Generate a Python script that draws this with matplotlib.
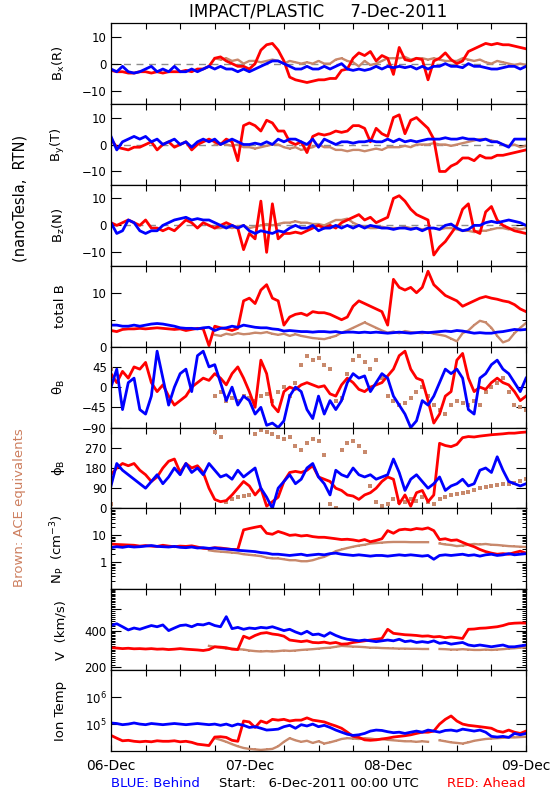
import numpy as np
import matplotlib
matplotlib.use("Agg")
import matplotlib.pyplot as plt
from matplotlib.ticker import FixedLocator, FixedFormatter, NullFormatter, NullLocator, LogLocator

nan = np.nan

# hourly samples, hours after 06-Dec-2011 00:00 UTC
hours = np.arange(73)
day_labels = ['06-Dec', '07-Dec', '08-Dec', '09-Dec']

# ---- B_x (R), nT ----
bx_red = [-2.5, -3, -3, -3.5, -3.5, -3, -3, -3.5, -3, -3.5, -3, -3,
          -3, -2.5, -3, -2, -2, -1, 2, 2.5, 1, 0, -1, -1,
          -2, 0, 5, 7, 7.5, 5, 1, -5, -6, -6.5, -7, -6.5,
          -6, -6, -5.5, -5.5, -2.5, -2, 2, 4, 3, 4.5, 1, 3,
          2, -4, 6, 1.5, 1, 2, 1.5, -6, 1, 2, 4, 1.5,
          0, 1, 4.5, 5.5, 6.5, 7.5, 7, 7.5, 7, 7, 6.5, 6,
          5.5]
bx_blue = [-2, -3, -1, -3, -3.5, -3, -2, -1, -3, -2, -3, -1,
           -3, -3, -2, -3, -2, -1, -2, -1, -2, -2, -3, -2,
           -3, -2, -1, 0, 1, 1, 0, -1, -2, -2, -1, -2,
           -2, -1, -2, -1, 0, -2, -2.5, -2, -2.5, -2, -1, -2,
           -1, -1.5, -1, -1.5, -1, -2, -1, -2, -1, -1, 0, -1,
           -1, -1.5, 0, -1, -1, -1.5, -2, -2, -1.5, -1, -1, -2,
           -1]
bx_brown = [2.5] + [nan] * 17 + [
           2, 1.5, 2, 1, 1.5, 0,
           1, 1, 0.5, 1, 1.5, 1, 0, 1, 0.5, 0, 0.5, 0,
           1, 0, 0, 1.5, 2, 1, 0.5, -1, 1, -0.5, 0, 1,
           2, 2, 2, 2.5, 1.5, 2, 2, 1.5, 2, 1.5, 1, 1,
           1, 2, 1.5, 1, 1.5, 0.5, 0, 1, 0.5, 0, -0.5, 0,
           -0.5]

# ---- B_y (T) ----
by_red = [2, -1, -1.5, -2, -1, -1, 0, 1, -2, 0, 1, -1,
          0, 1, -2, 0, 1, 2, 1, 0, 2, 1, -6, 7,
          8, 7, 5, 9, 8, 5, 5, 1, 0, 1, -3, 3,
          4, 3.5, 4, 5, 4.5, 5, 7, 7, 6, 1, 6, 4,
          3, 10, 11, 4, 9, 10, 8, 6, 2, -10, -10, -8,
          -7, -5, -5, -6, -4, -5, -5, -4, -4, -3.5, -3, -2.5,
          -2]
by_blue = [3, -2, 1, 2, 3, 2, 3, 1, 2, 0, 1, 2,
           0, 1, -1, 1, 2, 1, 2, 0, 1, 2, 1, 0,
           0, 0.5, 0, 1, 0, 2, 1, 2, 2, 1, 0, 2,
           -1, 2, 1, 0, 1, 1, 0.5, 1, 1, 1.5, 1, 1,
           2, 1, 2, 1, 1.5, 1, 1.5, 2, 2, 2, 2.5, 2,
           2, 2.5, 2, 2, 1.5, 2, 1, 1, 0, -1, 2, 2,
           2]
by_brown = [1.5] + [nan] * 17 + [
            0, 0.5, 0, -0.5, 0, -1,
            -1, -1.5, -1, -0.5, 0, 0, -1, -1.5, -1, -2, -1.5, -1,
            0, -1, -1, -2, -2, -2.5, -2, -2, -2.5, -2, -1.5, -2,
            -1, -1, -1, -0.5, -1, 0, 0, 0, 0.5, 0, 0, -0.5,
            0, 0.5, 1, 1.5, 2, 2, 1.5, 1, 0, -0.5, 0, -1,
            -0.5]

# ---- B_z (N) ----
bz_red = [1, 0, 1, 2, 1, 0, 2, -1, -1, -2, -1, -2,
          0, 2, 1, -1, 1, 0, -1, 0, 1, 0, -1, -9,
          -3, -5, 9, -10, 8, -5, -3, -3, -2.5, -3, -2, -1,
          0, -1, 0, -1, 1, 2, 3, 4, 2, 3, 1, 2,
          3, 10, 11, 9, 6, 4, 3, 2, -11, -8, -6, -3,
          0, 6, 8, -2, -3, 5, 7, 2, 0, -1, -2, -2.5,
          -3]
bz_blue = [1, -3, -2, 2, 1, -2, -3, -2, -2, 0, 1, 2,
           2.5, 3, 2, 2.5, 2, 2, 1, 0, -1, 0, -1, 0,
           -2, -3, -2, -2.5, -3, -2, -2.5, -1, 0, -1, -1, 0,
           -2, -1, -1, 0, -1, 0, -1, 0, -1, 0, -0.5, -1,
           -1, -1.5, -1, -1, -1.5, -1, -2, -1, -1, -1.5, 0, 0.5,
           -1, -2, -1.5, 0, 0, 1, 1.5, 1, 1.5, 2, 1.5, 1,
           0]
bz_brown = [1] + [nan] * 17 + [
            -1, -1, -0.5, -1, -0.5, 0,
            -1, -0.5, 0, 0.5, 0, 0.5, 1, 1, 1.5, 1, 1, 0.5,
            0.5, 0, 1, 2, 2, 2.5, 1, 0, -0.5, -1, -1, -0.5,
            -1, -1, -1, -0.5, -1, -1, -1.5, -1, -1, -1.5, -1, -1,
            -1.5, -2, -2, -2.5, -2, -2, -1.5, -1, -1, -1.5, -1, -1.5,
            -1]

# ---- total B ----
btot_red = [3, 2.8, 3.2, 3.3, 3.3, 3.4, 3.3, 3.4, 3.5, 3.4, 3.3, 3.2,
            3.3, 3.0, 3.2, 3.4, 3.3, 0.2, 3.8, 3.5, 3.3, 3.0, 3.4, 8.5,
            9.0, 8.0, 10.5, 11.5, 9.0, 8.5, 4.0, 5.5, 6.0, 6.2, 5.8, 6.5,
            6.3, 6.3, 6.0, 5.5, 5.0, 5.5, 7.5, 8.5, 8.0, 7.5, 7.0, 6.5,
            4.0, 12.5, 11.0, 10.5, 11.0, 10.0, 11.0, 14.0, 11.5, 10.5, 9.5, 9.0,
            8.5, 7.5, 8.0, 8.5, 9.0, 9.3, 9.0, 8.8, 8.5, 8.3, 7.8, 7.0,
            6.5]
btot_blue = [4.0, 4.0, 3.8, 3.8, 4.0, 3.8, 4.0, 4.2, 4.3, 4.2, 4.0, 3.8,
             3.5, 3.4, 3.4, 3.3, 3.5, 3.6, 3.0, 3.4, 3.5, 3.8, 3.6, 4.0,
             3.8, 3.6, 3.5, 3.5, 3.3, 3.2, 2.9, 3.0, 2.9, 2.8, 2.8, 2.7,
             2.8, 2.8, 2.7, 2.8, 2.6, 2.7, 2.7, 2.6, 2.7, 2.6, 2.7, 2.6,
             2.5, 2.6, 2.7, 2.6, 2.5, 2.6, 2.7, 2.6, 2.7, 2.8, 2.9, 2.8,
             3.0, 2.9, 2.7, 2.5, 2.6, 2.5, 2.5, 2.7, 2.8, 3.0, 3.2, 3.1,
             3.2]
btot_brown = [3.5] + [nan] * 17 + [
              2.2, 2.0, 2.4, 2.2, 2.5, 2.3,
              2.4, 2.6, 2.5, 2.7, 2.4, 2.2, 2.4, 2.0, 2.3, 2.0, 1.8, 1.6,
              1.5, 1.4, 1.7, 2.0, 2.6, 3.0, 3.5, 4.0, 4.5, 4.0, 3.5, 3.0,
              2.6, 2.8, 2.5, 2.9, 2.7, 2.6, 2.5, 2.7, 2.4, 2.2, 2.0, 1.5,
              1.0, 2.5, 3.0, 4.0, 4.8, 4.5, 3.5, 2.0, 0.8, 1.2, 2.5, 3.5,
              4.4]

# ---- theta_B, deg ----
theta_red = [30, 10, 35, 20, 45, 40, 55, 10, -10, 5, -20, -40,
             -30, -20, 0, 10, 20, 15, 30, 20, 5, 30, 45, 20,
             -10, -45, 60, 30, -40, -55, -10, 0, -5, 5, 10, 5,
             0, 3, -15, -20, 5, 20, 10, -5, -10, 0, 5, 10,
             25, 40, 70, 80, 40, 20, 15, -30, -80, -60, -20, -10,
             60, 75, 20, -10, 0, -5, 10, 20, 10, 5, -10, -30,
             -20]
theta_blue = [0, 40, -50, 10, 20, -50, -60, -20, 80, 20, -40, 0,
              30, 40, -10, 70, 80, 45, 50, 10, -30, 0, -40, -20,
              -30, -60, -45, -85, -80, -90, -75, -20, 0, -10, -50, -70,
              -20, -60, -30, -50, -30, 10, 30, 20, 25, -10, 10, 30,
              20, -20, -40, -60, -90, -75, -30, -40, -20, 10, 40, 30,
              40, 20, -50, -60, 20, 30, 50, 60, 40, 30, 10, -10,
              20]
theta_brown = [40] + [nan] * 17 + [
               -20, -10, -30, -25, -30, -20,
               -25, -30, -20, -15, -30, -10, 0, -20, 10, 50, 70, 60,
               65, 50, 40, -30, -25, 30, 60, 70, 55, 40, 60, 20,
               -20, -30, -40, -35, -25, -10, 0, -20, -40, -50, -60, -40,
               -30, -35, -40, -30, -40, -10, 0, 10, 20, -10, -40, -45,
               -50]

# ---- phi_B, deg ----
phi_red = [150, 180, 200, 190, 200, 170, 150, 120, 140, 180, 210, 220,
           160, 200, 180, 190, 160, 90, 40, 30, 35, 60, 90, 120,
           100, 60, 90, 10, 30, 50, 120, 160, 165, 160, 170, 190,
           140, 130, 120, 90, 80, 60, 55, 40, 60, 70, 90, 120,
           140, 130, 20, 60, 10, 70, 80, 30, 60, 290, 280, 275,
           285, 315, 320, 318, 322, 325, 328, 330, 332, 335, 335, 338,
           340]
phi_blue = [100, 200, 170, 150, 130, 110, 90, 120, 150, 110, 140, 180,
            150, 200, 160, 180, 150, 200, 170, 140, 150, 130, 170, 140,
            160, 180, 90, 50, 0, 90, 120, 150, 110, 130, 180, 200,
            140, 110, 60, 170, 150, 140, 180, 150, 140, 150, 130, 140,
            150, 220, 160, 80, 130, 150, 120, 90, 110, 140, 80, 100,
            110, 130, 100, 110, 170, 180, 160, 230, 170, 120, 110, 100,
            110]
phi_brown = [20] + [nan] * 17 + [
             340, 320, 30, 40, 50, 55,
             60, 330, 350, 340, 330, 320, 310, 320, 280, 260, 290, 310,
             300, 240, 20, 0, 260, 290, 300, 280, 250, 100, 30, 10,
             20, 40, 30, 30, 40, 35, 50, 30, 20, 40, 50, 60,
             65, 70, 75, 80, 90, 95, 100, 105, 110, 110, 115, 120,
             130]

# ---- N_P, cm^-3 ----
np_red = [4.8, 4.6, 4.5, 4.4, 4.3, 4.0, 4.2, 4.0, 3.9, 4.3, 4.0, 3.8,
          4.0, 3.9, 4.1, 3.7, 3.3, 3.2, 3.5, 3.4, 3.2, 3.0, 3.0, 16,
          18, 20, 22, 12, 11, 14, 12, 10, 10.5, 9.5, 10, 9.0,
          8.5, 8.5, 8.0, 7.5, 7.0, 7.2, 6.8, 6.2, 7.0, 5.8, 6.5, 7.5,
          15, 12, 16, 17, 16, 18, 17, 19, 15, 7.0, 7.5, 6.5,
          6.8, 5.5, 4.5, 3.8, 3.0, 2.5, 2.2, 2.0, 2.1, 2.0, 2.3, 2.6,
          2.2]
np_blue = [3.5, 3.8, 3.6, 3.9, 3.7, 3.8, 4.0, 4.2, 3.9, 3.8, 3.7, 3.9,
           3.6, 3.5, 3.7, 3.4, 3.5, 3.3, 3.4, 3.2, 3.1, 3.0, 2.8, 2.7,
           2.6, 2.5, 2.3, 2.2, 2.0, 2.0, 1.9, 1.8, 1.9, 2.0, 1.8, 1.9,
           2.0, 1.9, 2.1, 2.2, 2.0, 1.9, 1.8, 1.9, 1.8, 1.7, 1.8, 1.8,
           1.7, 1.8, 1.9, 1.8, 1.9, 1.8, 1.7, 1.8, 1.3, 1.8, 1.9, 1.8,
           1.9, 2.0, 1.8, 1.9, 1.7, 1.9, 2.0, 1.8, 1.9, 2.1, 1.9, 2.0,
           2.1]
np_brown = [4.5] + [nan] * 16 + [
            2.8, 2.6, 2.5, 2.4, 2.3, 2.2, 2.0,
            1.9, 1.8, 1.7, 1.5, 1.4, 1.4, 1.3, 1.2, 1.2, 1.1, 1.1, 1.2,
            1.4, 1.6, 2.0, 2.6, 3.0, 3.4, 3.8, 4.2, 4.5, 5.0, 5.2, 5.4,
            5.6, 5.7, 5.7, 5.7, 5.6, 5.6, 5.6, 5.6, nan, 5.0, 4.6, 4.4,
            4.0, 4.2, 4.5, 4.8, 4.6, 4.8, 4.5, 4.4, 4.2, 4.0, 3.9, 3.8,
            3.7]

# ---- V, km/s ----
v_red = [290, 288, 285, 287, 284, 285, 283, 285, 282, 283, 280, 282,
         285, 282, 280, 278, 275, 280, 295, 293, 290, 282, 280, 360,
         345, 365, 380, 385, 375, 370, 360, 335, 330, 325, 330, 320,
         318, 322, 315, 320, 310, 312, 320, 325, 330, 335, 340, 345,
         410, 380, 375, 370, 368, 365, 360, 362, 355, 358, 350, 355,
         350, 345, 410, 412, 418, 420, 425, 430, 440, 455, 460, 462,
         460]
v_blue = [440, 455, 430, 405, 420, 410, 425, 440, 430, 445, 400, 420,
          440, 445, 430, 450, 445, 460, 440, 430, 520, 415, 425, 410,
          420, 415, 425, 420, 430, 415, 400, 410, 390, 375, 395, 370,
          375, 360, 385, 365, 350, 340, 335, 330, 335, 330, 325, 330,
          335, 330, 340, 325, 330, 320, 325, 320, 330, 315, 320, 310,
          315, 320, 305, 300, 305, 300, 295, 300, 305, 295, 295, 300,
          305]
v_brown = [320] + [nan] * 16 + [
           300, 295, 290, 285, 285, 282, 280,
           275, 272, 270, 272, 270, 272, 275, 273, 275, 278, 280, 282,
           285, 288, 290, 295, 300, 298, 296, 295, 293, 290, 290, 288,
           287, 286, 285, 285, 284, 284, 283, 283, nan, 283, 282, 280,
           280, 282, 280, 278, 278, 280, 278, 280, 282, 285, 287, 290,
           292]

# ---- ion temperature, thousands of K ----
temp_red_kK = [38, 30, 24, 25, 23, 22, 23, 22, 24, 23, 23, 24,
               22, 23, 21, 18, 17, 16, 33, 34, 32, 25, 23, 130,
               120, 75, 130, 110, 150, 140, 150, 130, 140, 140, 170, 140,
               130, 120, 100, 85, 70, 50, 35, 32, 26, 25, 26, 28,
               30, 33, 35, 37, 40, 45, 50, 50, 55, 100, 150, 200,
               130, 100, 90, 85, 80, 75, 70, 55, 50, 60, 50, 45,
               55]
temp_blue_kK = [110, 105, 95, 100, 110, 100, 95, 105, 100, 95, 100, 105,
                100, 95, 100, 105, 100, 95, 100, 90, 100, 85, 100, 90,
                75, 80, 70, 60, 62, 65, 80, 90, 70, 95, 85, 100,
                80, 90, 75, 60, 50, 42, 38, 40, 45, 55, 60, 58,
                52, 48, 50, 45, 50, 55, 50, 60, 55, 50, 58, 60,
                55, 65, 60, 55, 60, 50, 35, 33, 35, 32, 45, 40,
                45]
temp_brown_kK = [33] + [nan] * 17 + [
                 30, 26, 22, 18, 15, 13,
                 12, 11.5, 11, 11.5, 12, 15, 22, 30, 25, 22, 24, 20,
                 23, 19, 21, 24, 28, 30, 29, 28, 30, 29, 27, 28,
                 26, 25, 24, 23, 23, 22, 23, 22, nan, 25, 23, 21,
                 20, 19, 21, 24, 26, 28, 29, 30, 31, 32, 32, 33,
                 34]

RED = '#ff0000'
BLUE = '#0000ff'
BROWN = '#c8896c'


def draw(ax, brown, red, blue, brown_dots=False):
    if brown_dots:
        ax.plot(hours, brown, ls='none', marker='s', ms=2.8, mew=0, color=BROWN)
    else:
        ax.plot(hours, brown, color=BROWN, lw=1.7, marker='s', ms=1.6, mew=0)
    ax.plot(hours, red, color=RED, lw=2.0)
    ax.plot(hours, blue, color=BLUE, lw=2.0)


fig, axes = plt.subplots(9, 1, figsize=(5.5, 8), dpi=100, sharex=True)
fig.subplots_adjust(left=0.2018, right=0.9564, top=0.971, bottom=0.0612, hspace=0)

labels = ['B$_\\mathrm{x}$(R)', 'B$_\\mathrm{y}$(T)', 'B$_\\mathrm{z}$(N)', 'total B',
          'θ$_\\mathrm{B}$', 'ϕ$_\\mathrm{B}$', 'N$_\\mathrm{P}$  (cm$^{-3}$)',
          'V  (km/s)', 'Ion Temp']

# magnetic field components
for ax, (br, r, b) in zip(axes[:3], [(bx_brown, bx_red, bx_blue),
                                    (by_brown, by_red, by_blue),
                                    (bz_brown, bz_red, bz_blue)]):
    ax.axhline(0, color='#8c8c8c', lw=1.0, dashes=(5, 4), zorder=0)
    draw(ax, br, r, b)
    ax.set_ylim(-15, 15)
    ax.set_yticks([-10, 0, 10])

ax = axes[3]
draw(ax, btot_brown, btot_red, btot_blue)
ax.set_ylim(0, 15)
ax.set_yticks([0, 10])
ax.yaxis.set_minor_locator(FixedLocator([5]))

ax = axes[4]
draw(ax, theta_brown, theta_red, theta_blue, brown_dots=True)
ax.set_ylim(-90, 90)
ax.set_yticks([-90, -45, 0, 45])

ax = axes[5]
draw(ax, phi_brown, phi_red, phi_blue, brown_dots=True)
ax.set_ylim(0, 360)
ax.set_yticks([0, 90, 180, 270])

ax = axes[6]
draw(ax, np_brown, np_red, np_blue)
ax.set_yscale('log')
ax.set_ylim(0.1, 100)
ax.yaxis.set_major_locator(FixedLocator([0.1, 1, 10, 100]))
ax.yaxis.set_major_formatter(FixedFormatter(['', '1', '10', '']))
ax.yaxis.set_minor_locator(LogLocator(base=10, subs=np.arange(2, 10)))
ax.yaxis.set_minor_formatter(NullFormatter())

ax = axes[7]
draw(ax, v_brown, v_red, v_blue)
ax.set_yscale('log')
ax.set_ylim(190, 870)
ax.yaxis.set_major_locator(FixedLocator([200, 400, 600]))
ax.yaxis.set_major_formatter(FixedFormatter(['200', '400', '']))
ax.yaxis.set_minor_locator(FixedLocator(np.concatenate([np.arange(190, 400, 10),
                                                        np.arange(400, 871, 20)])))
ax.yaxis.set_minor_formatter(NullFormatter())

ax = axes[8]
draw(ax, np.array(temp_brown_kK) * 1e3, np.array(temp_red_kK) * 1e3,
     np.array(temp_blue_kK) * 1e3)
ax.set_yscale('log')
ax.set_ylim(1e4, 1e7)
ax.yaxis.set_major_locator(FixedLocator([1e5, 1e6]))
ax.yaxis.set_major_formatter(FixedFormatter(['10$^5$', '10$^6$']))
ax.yaxis.set_minor_locator(NullLocator())

for ax, lab in zip(axes, labels):
    ax.set_xlim(0, 72)
    ax.set_xticks([0, 24, 48, 72])
    ax.set_xticks(np.arange(0, 73, 6), minor=True)
    ax.tick_params(which='both', direction='in', top=True, right=True,
                   labelsize=8.5, width=0.8, pad=3)
    ax.tick_params(axis='y', which='major', length=7)
    ax.tick_params(axis='y', which='minor', length=3, width=0.7)
    ax.tick_params(axis='x', which='both', length=4, width=0.8)
    ax.set_ylabel(lab, fontsize=9.5)
    ax.yaxis.set_label_coords(-0.105, 0.5)
    for s in ax.spines.values():
        s.set_linewidth(0.9)

axes[-1].set_xticklabels(day_labels, fontsize=10)
axes[-1].tick_params(axis='x', pad=6)

fig.text(0.579, 0.985, 'IMPACT/PLASTIC     7-Dec-2011', ha='center', va='center', fontsize=12)
fig.text(0.036, 0.7525, '(nanoTesla,  RTN)', rotation=90, ha='center', va='center', fontsize=10.5)
fig.text(0.036, 0.365, 'Brown: ACE equivalents', rotation=90, ha='center', va='center',
         fontsize=9.5, color='#cd7f5f')
fig.text(0.2018, 0.021, 'BLUE: Behind', ha='left', va='center', fontsize=9.5, color=BLUE)
fig.text(0.579, 0.021, 'Start:   6-Dec-2011 00:00 UTC', ha='center', va='center', fontsize=9.5)
fig.text(0.9564, 0.021, 'RED: Ahead', ha='right', va='center', fontsize=9.5, color=RED)

fig.savefig('out.png', dpi=100)
